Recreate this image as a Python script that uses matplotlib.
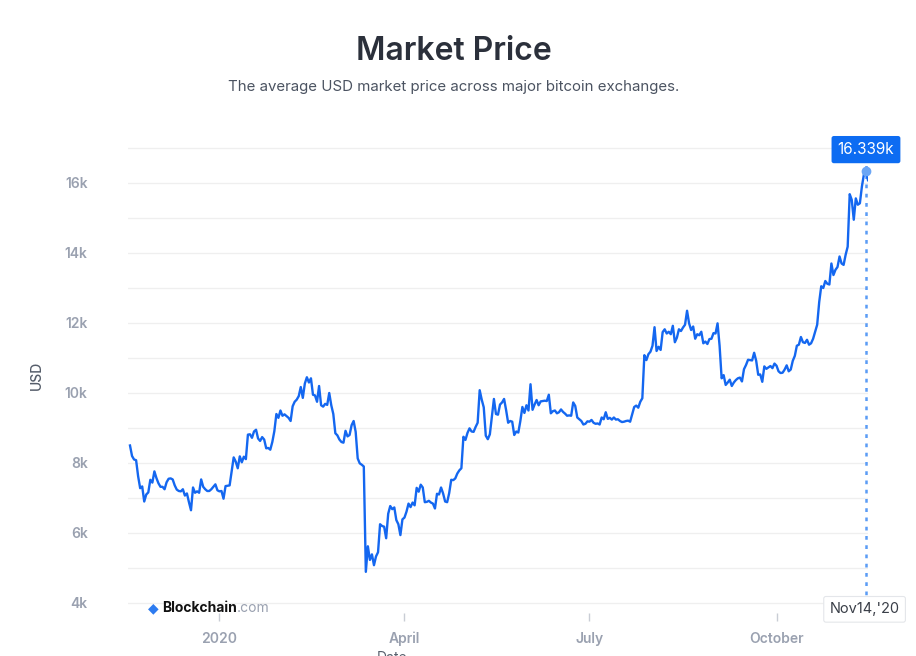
import matplotlib
matplotlib.use('Agg')
import matplotlib.pyplot as plt
import matplotlib.dates as mdates
import numpy as np
import pandas as pd

plt.rcParams['font.family'] = ['Inter', 'DejaVu Sans']

# daily average market price (USD), 18 Nov 2019 .. 15 Nov 2020
nov19 = [8500, 8200, 8100, 8080, 7620, 7280, 7330, 6900, 7100, 7160, 7520, 7440, 7760]
dec19 = [7570, 7420, 7320, 7320, 7250, 7450, 7550, 7560, 7530, 7360, 7240, 7200, 7190, 7250,
         7070, 7130, 6880, 6650, 7300, 7150, 7190, 7150, 7530, 7320, 7250, 7200, 7200, 7250,
         7320, 7390, 7220]
jan20 = [7190, 7200, 6980, 7340, 7350, 7360, 7760, 8160, 8040, 7850, 8190, 8020, 8180, 8110,
         8810, 8820, 8720, 8900, 8950, 8700, 8630, 8740, 8670, 8420, 8430, 8380, 8600, 8910,
         9400, 9290, 9500]
feb20 = [9350, 9390, 9340, 9290, 9200, 9620, 9750, 9810, 9910, 10170, 9860, 10270, 10450,
         10300, 10420, 9950, 9930, 9750, 10200, 9650, 9610, 9690, 9660, 10000, 9650, 9400,
         8850, 8790, 8670]
mar20 = [8600, 8580, 8920, 8760, 8800, 9080, 9200, 8890, 8130, 7990, 7950, 7900, 4890, 5620,
         5230, 5390, 5080, 5330, 5450, 6250, 6200, 6180, 5850, 6550, 6770, 6680, 6730, 6370,
         6250, 5940, 6390]
apr20 = [6440, 6610, 6840, 6740, 6870, 6790, 7290, 7180, 7380, 7300, 6880, 6890, 6920, 6870,
         6840, 6700, 7120, 7100, 7300, 7130, 6900, 6880, 7140, 7520, 7510, 7560, 7700, 7790,
         7850, 8750]
may20 = [8660, 8860, 8990, 8900, 8890, 9030, 9150, 10080, 9810, 9590, 8780, 8680, 8820, 9320,
         9830, 9400, 9380, 9670, 9730, 9830, 9510, 9150, 9200, 9180, 8800, 8900, 8870, 9200,
         9600, 9430, 9650]
jun20 = [9500, 10250, 9520, 9670, 9800, 9650, 9760, 9770, 9780, 9770, 9950, 9420, 9480, 9500,
         9420, 9450, 9530, 9460, 9410, 9350, 9360, 9350, 9730, 9630, 9300, 9250, 9200, 9100,
         9120, 9190]
jul20 = [9180, 9230, 9150, 9120, 9130, 9100, 9300, 9250, 9450, 9260, 9290, 9240, 9300, 9240,
         9250, 9200, 9170, 9180, 9200, 9210, 9180, 9390, 9600, 9640, 9580, 9750, 9850, 11080,
         10940, 11110, 11180]
aug20 = [11350, 11880, 11200, 11320, 11230, 11740, 11820, 11700, 11750, 11680, 11920, 11450,
         11580, 11820, 11770, 11870, 11950, 12350, 11990, 11800, 11900, 11550, 11680, 11650,
         11750, 11420, 11470, 11400, 11540, 11550, 11710]
sep20 = [11700, 11990, 11350, 10420, 10510, 10230, 10300, 10380, 10200, 10300, 10370, 10420,
         10440, 10330, 10680, 10800, 10950, 10940, 10930, 11150, 10920, 10520, 10530, 10320,
         10760, 10690, 10730, 10770, 10710, 10840]
oct20 = [10780, 10620, 10570, 10580, 10670, 10790, 10620, 10670, 10920, 11060, 11350, 11380,
         11600, 11450, 11430, 11520, 11380, 11420, 11550, 11750, 11950, 12600, 13050, 13000,
         13200, 13120, 13100, 13700, 13370, 13520, 13600]
nov20 = [13900, 13700, 13660, 13950, 14180, 15680, 15520, 14950, 15560, 15380, 15420, 15900,
         16250, 16339, 16080]

price = nov19 + dec19 + jan20 + feb20 + mar20 + apr20 + may20 + jun20 + jul20 + aug20 + sep20 + oct20 + nov20
dates = pd.date_range('2019-11-18', periods=len(price), freq='D')

hover_idx = 362  # Nov 14 2020
month_ticks = pd.to_datetime(['2020-01-01', '2020-04-01', '2020-07-01', '2020-10-01'])
month_labels = ['2020', 'April', 'July', 'October']
y_major = [4000, 6000, 8000, 10000, 12000, 14000, 16000]
y_labels = ['4k', '6k', '8k', '10k', '12k', '14k', '16k']
y_minor = [5000, 7000, 9000, 11000, 13000, 15000, 17000]

fig = plt.figure(figsize=(9.16, 6.56), dpi=100)
ax = fig.add_axes([0.1397, 0.0648, 0.8079, 0.7256])

ax.plot(dates, price, color='#1467f0', lw=1.7, zorder=3, solid_joinstyle='round')

ax.set_xlim(dates[0] - pd.Timedelta(days=1), dates[-1])
ax.set_ylim(3700, 17300)

ax.set_yticks(y_major)
ax.set_yticklabels(y_labels)
ax.set_yticks(y_minor, minor=True)
ax.grid(axis='y', which='both', color='#efefef', lw=0.9, zorder=0)
ax.tick_params(axis='y', which='both', length=0, pad=29, labelsize=10,
               labelcolor='#9aa1b0')

ax.set_xticks(month_ticks)
ax.set_xticklabels(month_labels)
ax.tick_params(axis='x', length=6, width=1, color='#c9cdd5', pad=7, labelsize=10,
               labelcolor='#9aa1b0')
for lab in ax.get_xticklabels() + ax.get_yticklabels():
    lab.set_fontweight('semibold')

for s in ax.spines.values():
    s.set_visible(False)

ax.set_ylabel('USD', color='#555d6a', fontsize=10, fontweight='medium', labelpad=15)

# hover crosshair, point and labels
hx = dates[hover_idx]
hy = price[hover_idx]
ax.axvline(hx, ymin=0.02, ymax=1.005, color='#5b9cf5', lw=1.8,
           linestyle=(0, (1.5, 2.2)), clip_on=False, zorder=2)
ax.plot([hx], [hy], 'o', ms=6, color='#6ba6f5', zorder=4, clip_on=False)
ax.annotate(f'{hy / 1000:.3f}k', xy=(hx, hy), xytext=(0, 15.5), textcoords='offset points',
            ha='center', va='center', color='white', fontsize=11,
            bbox=dict(boxstyle='round,pad=0.4,rounding_size=0.15', fc='#0d6cf2', ec='none'),
            annotation_clip=False, zorder=5)
ax.annotate(hx.strftime("%b%d,'%y"), xy=(hx, 0), xycoords=('data', 'axes fraction'),
            xytext=(-1, 3.0), textcoords='offset points', ha='center', va='center',
            color='#3a3f48', fontsize=10.5,
            bbox=dict(boxstyle='round,pad=0.4,rounding_size=0.15', fc='white', ec='#e4e6ea', lw=0.8),
            annotation_clip=False, zorder=5)

# watermark
fig.text(153 / 916, (656 - 608) / 656, '\u25c6', family='DejaVu Sans', color='#2d7bf0',
         fontsize=10, ha='center', va='center')
wm = fig.text(162 / 916, (656 - 608) / 656, 'Blockchain', color='#111111', fontsize=10,
              fontweight='bold', ha='left', va='center')
ax.annotate('.com', xy=(1, 0.5), xycoords=wm, ha='left', va='center', color='#9aa1b0',
            fontsize=10)

fig.text(454 / 916, (656 - 52) / 656, 'Market Price', ha='center', va='center',
         fontsize=23, fontweight='semibold', color='#2b303b')
fig.text(454 / 916, (656 - 87) / 656, 'The average USD market price across major bitcoin exchanges.',
         ha='center', va='center', fontsize=10.8, color='#4b5361')
fig.text(392 / 916, (656 - 651) / 656, 'Date', ha='center', va='top', fontsize=10,
         color='#59616e')

fig.savefig('out.png', dpi=100)
